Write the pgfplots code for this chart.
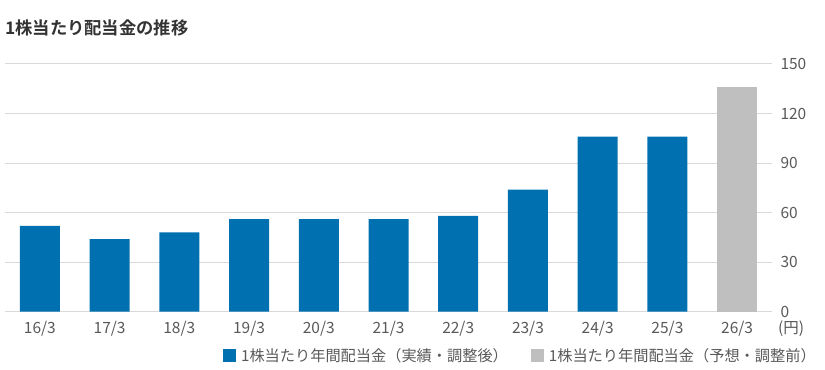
\documentclass[border=0pt]{standalone}
\usepackage{pgfplots}
\pgfplotsset{compat=1.18}
\usepackage{fontspec}
\setmainfont{Noto Sans CJK JP}[BoldFont={Noto Sans CJK JP Bold}]
\definecolor{barblue}{HTML}{0070B0}
\definecolor{bargray}{HTML}{BFBFBF}
\definecolor{gridc}{HTML}{D9D9D9}
\definecolor{txt}{HTML}{595959}
\definecolor{ttl}{HTML}{333333}
\begin{document}
\begin{tikzpicture}
\useasboundingbox (0,0) rectangle (825bp,370bp);
\node[anchor=west, inner sep=0pt, text=ttl, font=\fontsize{17.3bp}{19bp}\selectfont\bfseries] at (5bp,342bp) {1株当たり配当金の推移};
\begin{axis}[
  at={(5bp,58.3bp)}, anchor=south west,
  scale only axis, width=767bp, height=247.7bp,
  xmin=-0.5, xmax=10.5, ymin=0, ymax=150,
  axis line style={draw=none}, major tick length=0pt,
  ytick={0,30,...,150}, yticklabel pos=right,
  ymajorgrids, grid style={gridc, line width=1bp},
  xtick={0,...,10},
  xticklabels={16/3,17/3,18/3,19/3,20/3,21/3,22/3,23/3,24/3,25/3,26/3},
  ticklabel style={font=\fontsize{15.5bp}{17bp}\selectfont, text=txt},
  x tick label style={yshift=-6bp},
  y tick label style={anchor=west, xshift=5bp},
  /pgf/number format/assume math mode=true,
  ybar, bar width=40bp, bar shift=0pt,
  legend style={at={(0.672,-0.178)}, anchor=center, draw=none, fill=none,
    legend columns=2, font=\fontsize{15.2bp}{17bp}\selectfont, text=txt,
    /tikz/every even column/.style={column sep=21bp},
    /tikz/every odd column/.style={column sep=3bp}},
  legend image code/.code={\fill[#1] (-4bp,-6.5bp) rectangle (9bp,6.5bp);},
  clip=false,
]
\addplot[fill=barblue, draw=none] coordinates {(0,52) (1,44) (2,48) (3,56) (4,56) (5,56) (6,58) (7,74) (8,106) (9,106)};
\addlegendentry{1株当たり年間配当金（実績・調整後）}
\addplot[fill=bargray, draw=none] coordinates {(10,136)};
\addlegendentry{1株当たり年間配当金（予想・調整前）}
\end{axis}
\node[text=txt, font=\fontsize{15.5bp}{17bp}\selectfont] at (791bp,41bp) {(円)};
\end{tikzpicture}
\end{document}
